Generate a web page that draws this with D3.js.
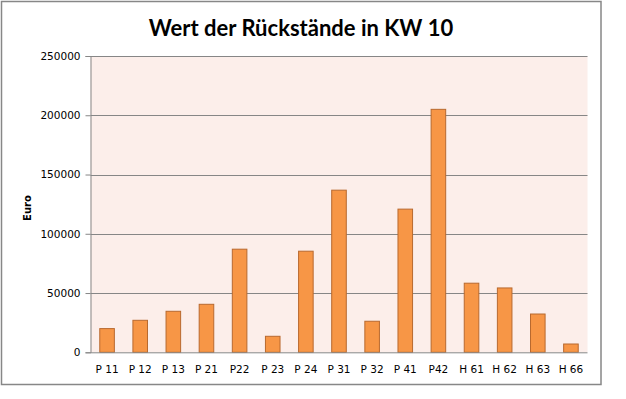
<!DOCTYPE html>
<html><head><meta charset="utf-8">
<script src="https://cdn.jsdelivr.net/npm/d3@7"></script>
<style>body{margin:0;background:#fff;}svg{display:block;}</style>
</head><body>
<script>
const categories = ["P 11","P 12","P 13","P 21","P22","P 23","P 24","P 31","P 32","P 41","P42","H 61","H 62","H 63","H 66"];
const values = [20000,27000,34600,40500,87000,13500,85300,136800,26200,120800,205000,58300,54300,32300,7000];
const yTicks = [0,50000,100000,150000,200000,250000];
const title = "Wert der Rückstände in KW 10";
const yTitle = "Euro";

const W = 626, H = 399;
const svg = d3.select("body").append("svg").attr("width", W).attr("height", H);

svg.append("rect").attr("x",1.5).attr("y",1.5).attr("width",599.5).attr("height",383)
  .attr("fill","#fff").attr("stroke","#878787").attr("stroke-width",1.5);

const m = {left:90.5, right:587.5, top:56, bottom:352.3};
const x = d3.scaleBand().domain(categories).range([m.left, m.right]).paddingInner(0.56).paddingOuter(0.28);
const y = d3.scaleLinear().domain([0,250000]).range([m.bottom, m.top]);

svg.append("rect").attr("x",m.left).attr("y",m.top).attr("width",m.right-m.left).attr("height",m.bottom-m.top)
  .attr("fill","#FCEEEA");

svg.append("g").selectAll("line").data(yTicks.slice(1)).join("line")
  .attr("x1",m.left).attr("x2",m.right).attr("y1",d=>Math.round(y(d))+0.5).attr("y2",d=>Math.round(y(d))+0.5)
  .attr("stroke","#868686").attr("stroke-width",1);

svg.append("g").selectAll("rect").data(values).join("rect")
  .attr("x",(d,i)=>x(categories[i])).attr("width",x.bandwidth())
  .attr("y",d=>y(d)).attr("height",d=>m.bottom-y(d))
  .attr("fill","#F79646").attr("stroke","#B8692F").attr("stroke-width",1);

const yAxis = svg.append("g").attr("transform",`translate(${m.left},0)`)
  .call(d3.axisLeft(y).tickValues(yTicks).tickSize(5).tickPadding(5).tickFormat(d3.format("d")));
yAxis.select(".domain").attr("stroke","#868686");
yAxis.selectAll(".tick line").attr("stroke","#868686");
yAxis.selectAll("text").attr("font-family","DejaVu Sans").attr("font-size","10.5px").attr("fill","#000");

const xAxis = svg.append("g").attr("transform",`translate(0,${m.bottom})`)
  .call(d3.axisBottom(x).tickSize(0).tickPadding(13));
xAxis.select(".domain").attr("stroke","#868686").attr("d",`M${m.left},0.5H${m.right}`);
xAxis.selectAll("text").attr("font-family","DejaVu Sans").attr("font-size","10.5px").attr("fill","#000");

svg.append("text").attr("x",301).attr("y",36).attr("text-anchor","middle")
  .attr("font-family","Lato").attr("font-weight","bold").attr("font-size","22px").text(title);

svg.append("text").attr("transform","translate(31,208) rotate(-90)").attr("text-anchor","middle")
  .attr("font-family","DejaVu Sans").attr("font-weight","bold").attr("font-size","10px").text(yTitle);
</script>
</body></html>
